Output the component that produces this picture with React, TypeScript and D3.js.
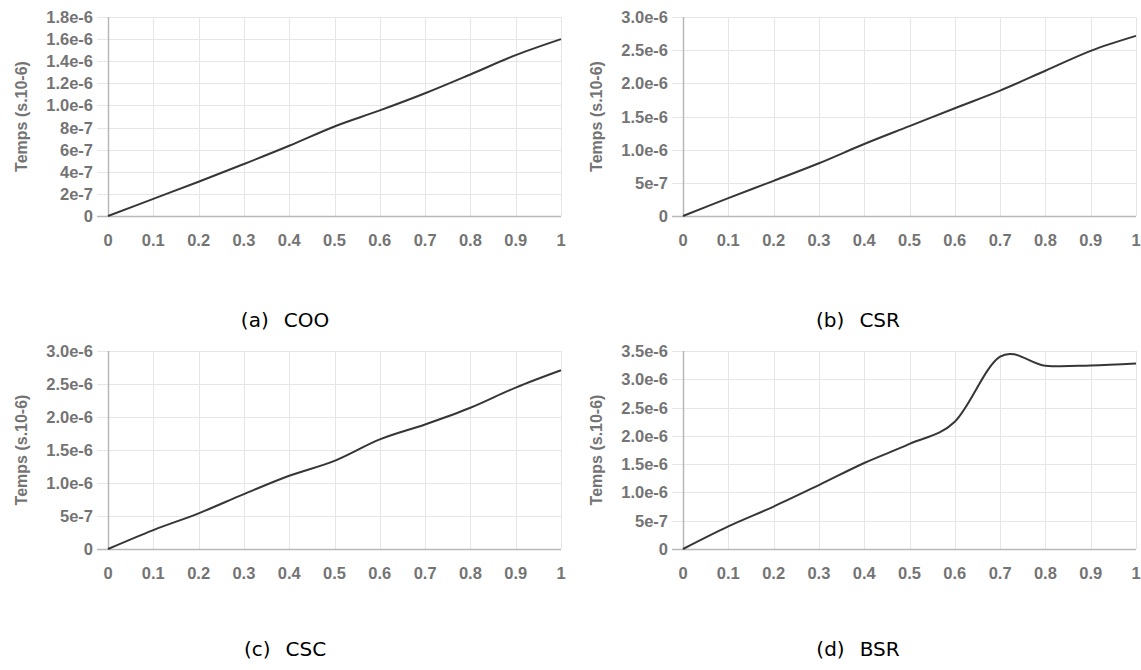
import React from "react";
import * as d3 from "d3";

// ---------- data ----------
const xValues = [0, 0.1, 0.2, 0.3, 0.4, 0.5, 0.6, 0.7, 0.8, 0.9, 1];
const xTickLabels = ["0", "0.1", "0.2", "0.3", "0.4", "0.5", "0.6", "0.7", "0.8", "0.9", "1"];

const cooTimes = [0, 0.155e-6, 0.31e-6, 0.47e-6, 0.635e-6, 0.81e-6, 0.955e-6, 1.11e-6, 1.28e-6, 1.455e-6, 1.6e-6];
const csrTimes = [0, 0.27e-6, 0.53e-6, 0.795e-6, 1.085e-6, 1.355e-6, 1.625e-6, 1.89e-6, 2.19e-6, 2.49e-6, 2.715e-6];
const cscTimes = [0, 0.287e-6, 0.54e-6, 0.832e-6, 1.11e-6, 1.336e-6, 1.66e-6, 1.887e-6, 2.14e-6, 2.446e-6, 2.708e-6];
const bsrTimes = [0, 0.4e-6, 0.75e-6, 1.13e-6, 1.52e-6, 1.857e-6, 2.25e-6, 3.4e-6, 3.24e-6, 3.245e-6, 3.28e-6];

const cooYTicks = [0, 2e-7, 4e-7, 6e-7, 8e-7, 1.0e-6, 1.2e-6, 1.4e-6, 1.6e-6, 1.8e-6];
const cooYTickLabels = ["0", "2e-7", "4e-7", "6e-7", "8e-7", "1.0e-6", "1.2e-6", "1.4e-6", "1.6e-6", "1.8e-6"];
const csrYTicks = [0, 5e-7, 1.0e-6, 1.5e-6, 2.0e-6, 2.5e-6, 3.0e-6];
const csrYTickLabels = ["0", "5e-7", "1.0e-6", "1.5e-6", "2.0e-6", "2.5e-6", "3.0e-6"];
const bsrYTicks = [0, 5e-7, 1.0e-6, 1.5e-6, 2.0e-6, 2.5e-6, 3.0e-6, 3.5e-6];
const bsrYTickLabels = ["0", "5e-7", "1.0e-6", "1.5e-6", "2.0e-6", "2.5e-6", "3.0e-6", "3.5e-6"];

const yAxisTitle = "Temps (s.10-6)";
const captionLetters = ["(a)", "(b)", "(c)", "(d)"];
const captionNames = ["COO", "CSR", "CSC", "BSR"];

// ---------- layout ----------
const W = 1141;
const H = 670;
const TICK_FONT = "'Liberation Sans', Arial, Helvetica, sans-serif";
const TEXT_GREY = "#747474";

type PanelProps = {
  left: number;
  right: number;
  top: number;
  bottom: number;
  yTicks: number[];
  yTickLabels: string[];
  values: number[];
  titleX: number;
  caption: [string, string];
  captionX: number;
  captionY: number;
};

function Panel(p: PanelProps) {
  const yMax = p.yTicks[p.yTicks.length - 1];
  const x = d3.scaleLinear().domain([0, 1]).range([p.left, p.right]);
  const y = d3.scaleLinear().domain([0, yMax]).range([p.bottom, p.top]);
  const line = d3
    .line<number>()
    .x((_, i) => x(xValues[i]))
    .y((d) => y(d))
    .curve(d3.curveCardinal.tension(0));
  const r = (v: number) => Math.round(v) + 0.5;
  const grid = "#e6e6e6";
  const axis = "#b8b8b8";
  return (
    <g>
      {p.yTicks.map((t, i) =>
        i === 0 ? null : (
          <line key={"h" + i} x1={p.left - 11} x2={x(1)} y1={r(y(t))} y2={r(y(t))} stroke={grid} strokeWidth={1} />
        )
      )}
      {xValues.map((t, i) =>
        i === 0 ? null : (
          <line key={"v" + i} x1={r(x(t))} x2={r(x(t))} y1={y(yMax)} y2={y(0)} stroke={grid} strokeWidth={1} />
        )
      )}
      <line x1={p.left - 11} x2={x(1)} y1={r(y(0))} y2={r(y(0))} stroke={axis} strokeWidth={1.5} />
      <line x1={r(x(0))} x2={r(x(0))} y1={y(yMax)} y2={y(0)} stroke={axis} strokeWidth={1.5} />
      {p.yTicks.map((t, i) => (
        <text
          key={"yl" + i}
          x={p.left - 15}
          y={y(t)}
          textAnchor="end"
          dominantBaseline="central"
          fontFamily={TICK_FONT}
          fontSize={16.5}
          fontWeight="bold"
          fill={TEXT_GREY}
        >
          {p.yTickLabels[i]}
        </text>
      ))}
      {xValues.map((t, i) => (
        <text
          key={"xl" + i}
          x={x(t)}
          y={y(0) + 30}
          textAnchor="middle"
          fontFamily={TICK_FONT}
          fontSize={16.5}
          fontWeight="bold"
          fill={TEXT_GREY}
        >
          {xTickLabels[i]}
        </text>
      ))}
      <text
        transform={`translate(${p.titleX},${(p.top + p.bottom) / 2}) rotate(-90)`}
        textAnchor="middle"
        dominantBaseline="central"
        fontFamily={TICK_FONT}
        fontSize={16}
        fontWeight="bold"
        fill={TEXT_GREY}
      >
        {yAxisTitle}
      </text>
      <path d={line(p.values) || ""} fill="none" stroke="#363636" strokeWidth={2} />
      <text
        x={p.captionX}
        y={p.captionY}
        textAnchor="middle"
        fontFamily="'DejaVu Sans', sans-serif"
        fontSize={20}
        fill="#000"
      >
        <tspan>{p.caption[0]}</tspan>
        <tspan dx={15}>{p.caption[1]}</tspan>
      </text>
    </g>
  );
}

export default function App() {
  return (
    <svg
      width={W}
      height={H}
      style={{ position: "absolute", left: 0, top: 0, background: "#fff" }}
    >
      <rect x={0} y={0} width={W} height={H} fill="#fff" />
      <Panel
        left={108}
        right={561}
        top={17}
        bottom={216}
        yTicks={cooYTicks}
        yTickLabels={cooYTickLabels}
        values={cooTimes}
        titleX={21}
        caption={[captionLetters[0], captionNames[0]]}
        captionX={285}
        captionY={327}
      />
      <Panel
        left={683}
        right={1136}
        top={17}
        bottom={216}
        yTicks={csrYTicks}
        yTickLabels={csrYTickLabels}
        values={csrTimes}
        titleX={596}
        caption={[captionLetters[1], captionNames[1]]}
        captionX={858}
        captionY={327}
      />
      <Panel
        left={108}
        right={561}
        top={351}
        bottom={549}
        yTicks={csrYTicks}
        yTickLabels={csrYTickLabels}
        values={cscTimes}
        titleX={21}
        caption={[captionLetters[2], captionNames[2]]}
        captionX={285}
        captionY={656}
      />
      <Panel
        left={683}
        right={1136}
        top={351}
        bottom={549}
        yTicks={bsrYTicks}
        yTickLabels={bsrYTickLabels}
        values={bsrTimes}
        titleX={596}
        caption={[captionLetters[3], captionNames[3]]}
        captionX={858}
        captionY={656}
      />
    </svg>
  );
}
